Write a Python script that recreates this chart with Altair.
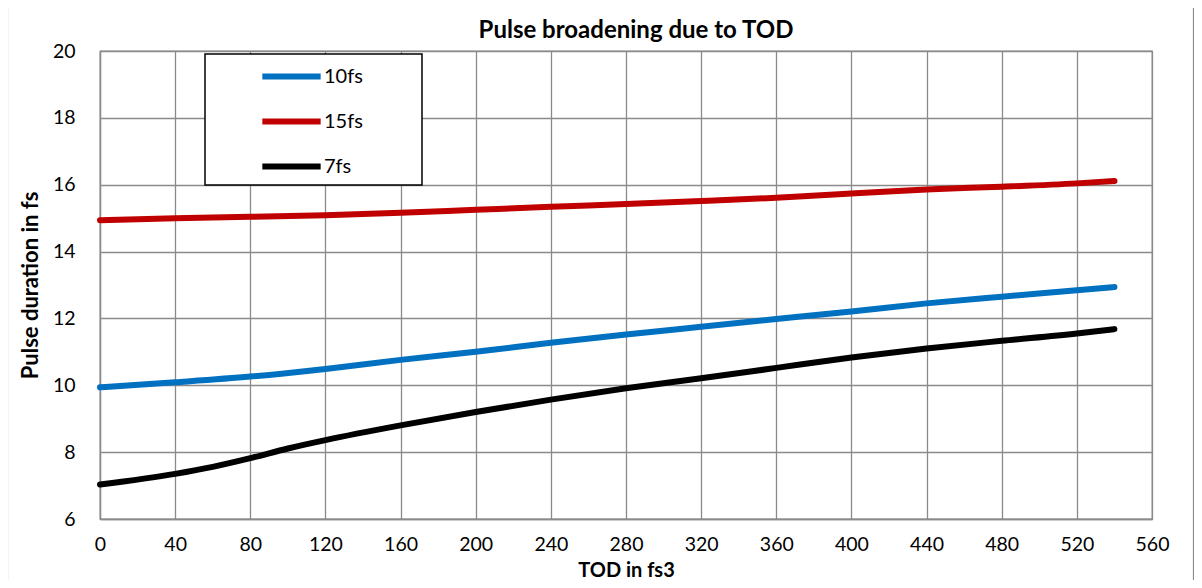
import altair as alt
import pandas as pd

# ---- data ----
tod_10 = [0, 40, 80, 120, 160, 200, 240, 280, 320, 360, 400, 440, 480, 520, 540]
dur_10 = [9.94, 10.09, 10.26, 10.49, 10.76, 11.0, 11.27, 11.52, 11.75, 11.98, 12.21, 12.45, 12.65, 12.84, 12.94]

tod_15 = [0, 40, 80, 120, 160, 200, 240, 280, 320, 360, 400, 440, 480, 520, 540]
dur_15 = [14.94, 15.0, 15.04, 15.09, 15.16, 15.25, 15.34, 15.42, 15.51, 15.61, 15.74, 15.86, 15.94, 16.04, 16.11]

tod_7 = [0, 40, 60, 80, 100, 120, 160, 200, 240, 280, 320, 360, 400, 440, 480, 520, 540]
dur_7 = [7.03, 7.35, 7.56, 7.82, 8.11, 8.36, 8.8, 9.2, 9.57, 9.91, 10.21, 10.52, 10.83, 11.1, 11.33, 11.55, 11.68]

series_names = ["10fs", "15fs", "7fs"]
series_colors = ["#0070C0", "#C00000", "#000000"]
x_ticks = list(range(0, 561, 40))
y_ticks = list(range(6, 21, 2))

rows = []
for name, xs, ys in [("10fs", tod_10, dur_10), ("15fs", tod_15, dur_15), ("7fs", tod_7, dur_7)]:
    for xv, yv in zip(xs, ys):
        rows.append({"tod": xv, "dur": yv, "series": name})
df = pd.DataFrame(rows)

FONT = "Lato"
GRID = "#8a8a8a"
W, H = 1052, 468

lines = alt.Chart(df).mark_line(strokeWidth=6, strokeCap="round", strokeJoin="round",
                                interpolate="monotone").encode(
    x=alt.X("tod:Q", scale=alt.Scale(domain=[0, 560], nice=False),
            axis=alt.Axis(values=x_ticks, title="TOD in fs3", grid=True, ticks=False,
                          labelFlush=False, labelPadding=16, titleX=W / 2, titleY=57,
                          titleFontSize=20, titleBaseline="alphabetic", titleAlign="center")),
    y=alt.Y("dur:Q", scale=alt.Scale(domain=[6, 20], nice=False, zero=False),
            axis=alt.Axis(values=y_ticks, title="Pulse duration in fs", grid=True, ticks=False,
                          labelFlush=False, labelPadding=25, titleX=-63, titleY=H / 2,
                          titleAngle=-90, titleBaseline="alphabetic", titleAlign="center")),
    color=alt.Color("series:N",
                    scale=alt.Scale(domain=series_names, range=series_colors),
                    legend=alt.Legend(title=None, orient="none", legendX=159, legendY=-7,
                                      symbolType="stroke", symbolSize=3400, symbolStrokeWidth=6,
                                      labelFontSize=20, labelFont=FONT, labelColor="#000000",
                                      labelOffset=0, rowPadding=0, padding=0)),
)

one = pd.DataFrame({"k": [0]})
legend_box = alt.Chart(one).mark_rect(fill="white", stroke="black", strokeWidth=1.5).encode(
    x=alt.value(105), x2=alt.value(322), y=alt.value(3), y2=alt.value(134))

outer_border = alt.Chart(one).mark_rect(fill=None, stroke=GRID, strokeWidth=1.2).encode(
    x=alt.value(-92.5), x2=alt.value(1093.5), y=alt.value(-44.5), y2=alt.value(545))

chart = alt.layer(outer_border, lines, legend_box).properties(
    width=W, height=H,
    title=alt.TitleParams("Pulse broadening due to TOD", font=FONT, fontSize=24, fontWeight="bold",
                          color="#000000", anchor="middle", baseline="alphabetic", offset=-56, dx=10),
    autosize=alt.AutoSizeParams(type="none"),
    padding={"left": 92, "top": 43, "right": 42, "bottom": 61},
).configure(background="white").configure_view(stroke=GRID, strokeWidth=1.3).configure_axis(
    gridColor=GRID, gridWidth=1.3, gridOpacity=1,
    domainColor=GRID, domainWidth=1.3,
    labelFont=FONT, labelFontSize=19.5, labelColor="#000000",
    titleFont=FONT, titleFontSize=22, titleFontWeight="bold", titleColor="#000000",
)

chart.save("out.html", embed_options={"renderer": "svg", "actions": False})
